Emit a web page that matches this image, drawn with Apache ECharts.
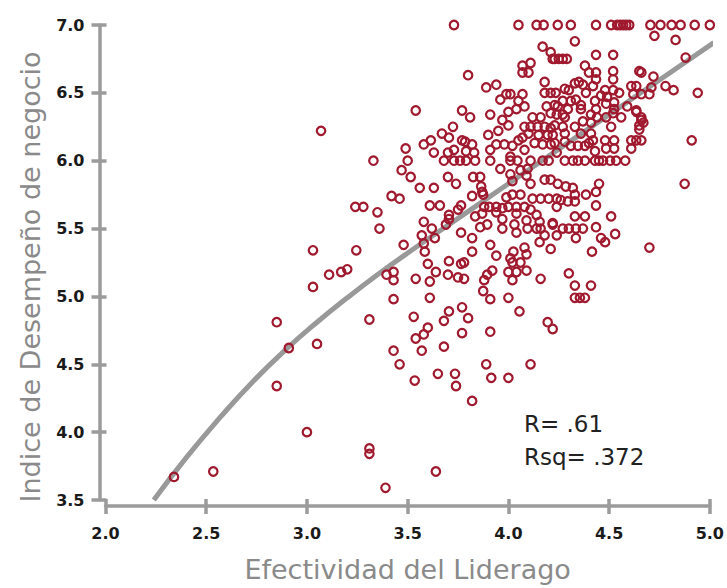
<!DOCTYPE html>
<html>
<head>
<meta charset="utf-8">
<script src="https://cdn.jsdelivr.net/npm/echarts@6/dist/echarts.min.js"></script>
<style>
html,body{margin:0;padding:0;background:#fff;overflow:hidden;}
#chart{width:727px;height:588px;}
</style>
</head>
<body>
<div id="chart"></div>
<script>
// Axis definitions
const xTitle = 'Efectividad del Liderago';
const yTitle = 'Indice de Desempeño de negocio';
const xRange = [2.0, 5.0];
const yRange = [3.5, 7.0];
const tickStep = 0.5;
const statLines = ['R= .61', 'Rsq= .372'];

// Fitted curve
const curveX = [2.24, 2.40, 2.57, 2.73, 2.90, 3.05, 3.20, 3.35, 3.50, 3.75, 4.00, 4.25, 4.50, 4.75, 5.02];
const curveY = [3.50, 3.81, 4.11, 4.37, 4.615, 4.81, 4.99, 5.16, 5.32, 5.575, 5.83, 6.085, 6.34, 6.595, 6.87];

// Scatter points [Efectividad, Desempeño]
const puntos = [
// top row 7.0
[3.73,7.0],[4.05,7.0],[4.14,7.0],[4.175,7.0],[4.245,7.0],[4.31,7.0],[4.435,7.0],[4.51,7.0],[4.54,7.0],[4.555,7.0],[4.57,7.0],[4.585,7.0],[4.60,7.0],[4.705,7.0],[4.755,7.0],[4.81,7.0],[4.855,7.0],[4.925,7.0],[5.0,7.0],
// upper middle
[4.17,6.84],[4.21,6.80],[4.22,6.75],[4.07,6.70],[4.11,6.72],[4.07,6.65],[4.10,6.65],[3.80,6.63],[4.18,6.58],[3.89,6.54],[3.94,6.56],[3.99,6.49],[4.01,6.49],[4.07,6.49],[4.18,6.50],[4.21,6.50],[3.96,6.45],[4.05,6.44],[3.54,6.37],[3.77,6.37],[4.04,6.38],[4.08,6.40],[4.19,6.40],[4.00,6.36],[4.23,6.41],
// upper right
[4.33,6.88],[4.725,6.92],[4.83,6.89],[4.88,6.76],[4.23,6.75],[4.25,6.75],[4.27,6.75],[4.29,6.75],[4.435,6.78],[4.52,6.78],[4.38,6.70],[4.40,6.65],[4.435,6.65],[4.435,6.60],[4.52,6.66],[4.52,6.60],[4.65,6.66],[4.66,6.65],[4.72,6.62],[4.78,6.55],[4.82,6.52],[4.94,6.50],[4.33,6.57],[4.35,6.58],[4.37,6.56],[4.42,6.55],[4.61,6.55],[4.635,6.55],[4.71,6.54],[4.62,6.49],[4.66,6.49],[4.70,6.49],[4.55,6.50],[4.52,6.52],[4.48,6.52],[4.46,6.48],[4.385,6.50],[4.28,6.53],[4.30,6.52],[4.235,6.50],[4.27,6.44],[4.31,6.44],[4.335,6.45],[4.43,6.44],[4.49,6.47],[4.525,6.43],[4.59,6.40],[4.635,6.37],[4.245,6.40],[4.295,6.38],[4.36,6.41],[4.435,6.38],[4.525,6.38],[4.485,6.42],
// middle band 6.4 - 5.65
[3.81,6.32],[3.91,6.34],[3.97,6.30],[4.00,6.26],[4.12,6.32],[4.16,6.32],[4.21,6.35],[4.08,6.25],[4.11,6.25],[4.145,6.25],[4.18,6.25],[4.21,6.24],[3.725,6.25],[3.67,6.20],[3.705,6.17],[3.90,6.19],[3.95,6.22],[4.10,6.20],[4.15,6.19],[4.07,6.17],[4.195,6.19],[4.22,6.19],[3.58,6.12],[3.615,6.15],[3.77,6.15],[3.785,6.14],[3.82,6.12],[3.94,6.12],[3.98,6.12],[4.02,6.11],[4.05,6.15],[4.08,6.08],[4.13,6.13],[4.17,6.12],[4.21,6.12],[3.49,6.09],[3.63,6.06],[3.70,6.06],[3.73,6.08],[3.79,6.07],[3.83,6.06],[3.91,6.08],[3.68,6.00],[3.73,6.00],[3.76,6.00],[3.79,6.00],[3.835,6.00],[3.91,6.00],[4.01,6.03],[4.01,6.00],[4.045,6.00],[4.11,6.00],[4.17,6.00],[4.20,6.00],[3.50,6.00],[3.47,5.93],[3.515,5.88],[3.70,5.88],[3.825,5.88],[3.86,5.88],[3.96,5.94],[4.01,5.90],[4.02,5.85],[4.06,5.93],[4.095,5.94],[4.09,5.89],[4.11,5.83],[4.18,5.86],[4.21,5.86],[3.56,5.80],[3.63,5.80],[3.74,5.83],[3.865,5.81],[3.87,5.77],[3.82,5.74],[3.875,5.75],[3.99,5.73],[4.02,5.75],[4.06,5.75],[4.12,5.72],[4.16,5.72],[4.20,5.72],[4.24,5.72],[3.46,5.72],[3.61,5.67],[3.66,5.67],[3.765,5.67],
// lower middle 5.65 - 4.95
[3.75,5.64],[3.705,5.60],[3.705,5.57],[3.69,5.53],[3.58,5.55],[3.62,5.50],[3.57,5.45],[3.58,5.39],[3.635,5.43],[3.585,5.33],[3.48,5.38],[3.765,5.47],[3.82,5.43],[3.82,5.33],[3.835,5.59],[3.87,5.61],[3.86,5.51],[3.895,5.53],[3.88,5.66],[3.905,5.66],[3.94,5.66],[3.97,5.65],[4.00,5.66],[4.04,5.66],[4.08,5.66],[3.94,5.62],[3.97,5.57],[3.97,5.50],[4.04,5.61],[4.03,5.53],[4.04,5.47],[4.09,5.56],[4.11,5.64],[4.14,5.60],[4.095,5.50],[4.14,5.50],[4.155,5.55],[4.16,5.50],[4.22,5.54],[4.18,5.45],[4.155,5.40],[4.21,5.35],[3.91,5.38],[3.94,5.30],[4.01,5.28],[4.025,5.33],[4.08,5.36],[4.09,5.31],[4.02,5.25],[4.06,5.25],[3.60,5.24],[3.705,5.26],[3.765,5.24],[3.78,5.25],[3.64,5.18],[3.70,5.16],[3.54,5.13],[3.61,5.11],[3.75,5.14],[3.78,5.13],[3.88,5.12],[3.895,5.16],[3.92,5.19],[4.00,5.18],[4.04,5.18],[4.02,5.12],[4.09,5.19],[4.16,5.13],[3.875,5.04],[3.61,4.99],[3.91,4.98],[4.00,4.99],
// right middle
[4.24,6.34],[4.27,6.34],[4.28,6.32],[4.36,6.38],[4.41,6.34],[4.44,6.32],[4.485,6.32],[4.52,6.35],[4.56,6.32],[4.635,6.36],[4.66,6.30],[4.67,6.28],[4.65,6.26],[4.66,6.32],[4.65,6.23],[4.23,6.26],[4.27,6.25],[4.28,6.20],[4.33,6.25],[4.37,6.29],[4.41,6.28],[4.36,6.20],[4.41,6.20],[4.51,6.25],[4.23,6.13],[4.28,6.14],[4.31,6.11],[4.345,6.11],[4.38,6.11],[4.40,6.13],[4.42,6.15],[4.48,6.15],[4.525,6.15],[4.61,6.15],[4.635,6.15],[4.66,6.15],[4.485,6.09],[4.525,6.09],[4.61,6.09],[4.43,6.07],[4.24,6.06],[4.28,6.00],[4.32,6.00],[4.345,6.00],[4.38,6.00],[4.43,6.00],[4.45,6.00],[4.47,6.00],[4.505,6.00],[4.535,6.00],[4.58,6.00],[4.91,6.15],[4.245,5.83],[4.285,5.81],[4.32,5.80],[4.33,5.75],[4.45,5.83],[4.435,5.77],[4.385,5.75],[4.26,5.71],[4.295,5.70],[4.33,5.70],[4.435,5.67],[4.875,5.83],
[4.24,5.66],[4.33,5.59],[4.38,5.59],[4.51,5.59],[4.22,5.53],[4.27,5.50],[4.30,5.50],[4.335,5.50],[4.37,5.50],[4.435,5.51],[4.24,5.45],[4.335,5.43],[4.46,5.43],[4.48,5.40],[4.53,5.46],[4.415,5.33],[4.70,5.36],[4.30,5.17],[4.33,5.08],[4.41,5.08],[4.33,4.99],[4.355,4.99],[4.38,4.99],
// lower band
[3.53,4.85],[3.705,4.89],[3.77,4.92],[3.80,4.84],[3.68,4.82],[4.055,4.89],[3.60,4.77],[3.58,4.72],[3.54,4.69],[3.77,4.73],[3.91,4.74],[4.195,4.81],[4.22,4.76],[3.68,4.63],[3.57,4.60],[3.89,4.50],[4.11,4.50],[3.65,4.43],[3.735,4.43],[3.915,4.40],[4.00,4.40],[3.535,4.38],[3.74,4.34],[3.82,4.23],
// left side
[3.07,6.22],[3.33,6.00],[3.42,5.74],[3.24,5.66],[3.28,5.66],[3.35,5.62],[3.36,5.50],[3.03,5.34],[3.245,5.34],
[3.11,5.16],[3.17,5.18],[3.20,5.20],[3.03,5.07],[3.395,5.16],[3.43,5.18],[3.43,5.12],[3.43,4.98],[2.85,4.81],[3.31,4.83],[2.91,4.62],[3.05,4.65],[3.43,4.60],[3.46,4.50],[2.85,4.34],[3.00,4.00],[3.31,3.88],[3.31,3.84],[3.39,3.59],
[2.34,3.67],[2.535,3.71],[3.64,3.71]
];

const curveData = curveX.map((x, i) => [x, curveY[i]]);

const axisGray = '#9b9b9b';
const chart = echarts.init(document.getElementById('chart'), null, {renderer: 'svg', width: 727, height: 588});

const baseX = {
  type: 'value', min: xRange[0], max: xRange[1], interval: tickStep,
  position: 'bottom', offset: 6, splitLine: {show: false}
};
const baseY = {
  type: 'value', min: yRange[0], max: yRange[1], interval: tickStep,
  position: 'left', offset: 6, splitLine: {show: false}
};

chart.setOption({
  animation: false,
  backgroundColor: '#ffffff',
  grid: {left: 105.5, right: 16, top: 25, bottom: 80, containLabel: false},
  xAxis: [
    Object.assign({}, baseX, {
      name: xTitle, nameLocation: 'middle', nameGap: 50,
      nameTextStyle: {fontFamily: 'DejaVu Sans', fontSize: 27, color: '#8a8a8a'},
      axisLine: {show: true, lineStyle: {color: axisGray, width: 3.5}},
      axisTick: {show: true, length: 8, lineStyle: {color: axisGray, width: 3.5}},
      axisLabel: {margin: 19, fontFamily: 'DejaVu Sans', fontWeight: 'bold', fontSize: 16, color: '#1a1a1a',
        formatter: v => v.toFixed(1)}
    }),
    Object.assign({}, baseX, {
      axisLine: {show: false},
      axisTick: {show: true, inside: true, length: 7, lineStyle: {color: axisGray, width: 3.5}},
      axisLabel: {show: false}
    })
  ],
  yAxis: [
    Object.assign({}, baseY, {
      axisLine: {show: true, lineStyle: {color: axisGray, width: 3.5}},
      axisTick: {show: true, length: 8, lineStyle: {color: axisGray, width: 3.5}},
      axisLabel: {margin: 15, fontFamily: 'DejaVu Sans', fontWeight: 'bold', fontSize: 16, color: '#1a1a1a',
        formatter: v => v.toFixed(1)}
    }),
    Object.assign({}, baseY, {
      axisLine: {show: false},
      axisTick: {show: true, inside: true, length: 7, lineStyle: {color: axisGray, width: 3.5}},
      axisLabel: {show: false}
    })
  ],
  series: [
    {
      type: 'line', xAxisIndex: 0, yAxisIndex: 0, data: curveData, smooth: true,
      showSymbol: false, symbol: 'none', z: 2, silent: true,
      lineStyle: {color: '#999999', width: 5, cap: 'butt'}
    },
    {
      type: 'scatter', xAxisIndex: 0, yAxisIndex: 0, data: puntos, z: 3,
      symbol: 'circle', symbolSize: 8.5,
      itemStyle: {color: 'rgba(255,255,255,0)', borderColor: '#a0192e', borderWidth: 2.2, opacity: 1}
    }
  ],
  graphic: [
    {
      type: 'text', x: 30, y: 277, rotation: Math.PI / 2,
      style: {text: yTitle, fontFamily: 'DejaVu Sans', fontSize: 27, fill: '#8a8a8a',
        align: 'center', verticalAlign: 'middle'}
    }
  ].concat(statLines.map((t, i) => ({
    type: 'text', left: 524, top: 412 + i * 33,
    style: {text: t, fontFamily: 'DejaVu Sans', fontSize: 23, fill: '#222222'}
  })))
});
</script>
</body>
</html>
